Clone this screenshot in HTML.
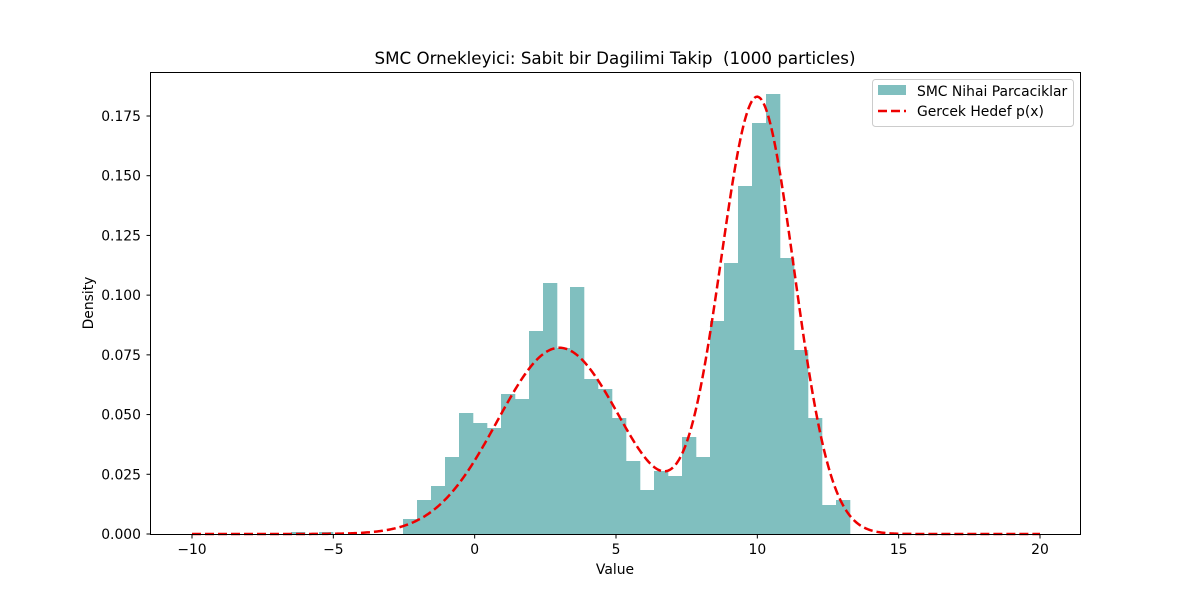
<!DOCTYPE html>
<html><head><meta charset="utf-8"><style>
body{margin:0;background:#fff}
svg text{font-family:"DejaVu Sans","Liberation Sans",sans-serif;fill:#000}
</style></head><body>
<svg id="s" width="1200" height="600" xmlns="http://www.w3.org/2000/svg">
<rect width="1200" height="600" fill="#fff"/>
<g id="bars" fill="#80bfbf"></g>
<path id="curve" fill="none" stroke="#e00" stroke-width="2.5" stroke-dasharray="9,4"/>
<rect x="150.5" y="72.5" width="930" height="462" fill="none" stroke="#000" stroke-width="1"/>
<g id="ticks" stroke="#000" stroke-width="1"></g>
<g id="labels"></g>
<text x="615" y="574" font-size="13.9" text-anchor="middle">Value</text>
<text transform="translate(93,303) rotate(-90)" font-size="13.9" text-anchor="middle">Density</text>
<text x="615" y="64" font-size="16.7" text-anchor="middle">SMC Ornekleyici: Sabit bir Dagilimi Takip&#160; (1000 particles)</text>
<rect x="872.5" y="79.5" width="201" height="47" rx="3" fill="#fff" fill-opacity="0.8" stroke="#ccc"/>
<rect x="878" y="85" width="28" height="10" fill="#80bfbf"/>
<text x="917" y="96" font-size="13.9">SMC Nihai Parcaciklar</text>
<line x1="878" y1="111" x2="906" y2="111" stroke="#e00" stroke-width="2.5" stroke-dasharray="9,4"/>
<text x="917" y="116" font-size="13.9">Gercek Hedef p(x)</text>
</svg>
<script>
var NS="http://www.w3.org/2000/svg";
function X(v){return 192+(v+10)*(848/30);}
function Y(d){return 534-d*(418/0.175);}
var bars=[[291,305,532],[319,333,532],[403,417,519],[417,431,500],[431,445,486],[445,459,457],[459,473,413],[473,487,423],[487,501,428],[501,515,394],[515,529,399],[529,543,331],[543,557,283],[557,570,348],[570,584,287],[584,598,379],[598,612,389],[612,626,418],[626,640,461],[640,654,490],[654,668,471],[668,682,476],[682,696,437],[696,710,457],[710,724,321],[724,738,263],[738,752,186],[752,766,123],[766,780,94],[780,794,258],[794,808,350],[808,822,418],[822,836,505],[836,850,500]];
var g=document.getElementById("bars");
bars.forEach(function(b){var r=document.createElementNS(NS,"rect");r.setAttribute("x",b[0]);r.setAttribute("width",b[1]-b[0]+0.3);r.setAttribute("y",b[2]);r.setAttribute("height",534-b[2]);g.appendChild(r);});
function N(x,m,s){return Math.exp(-0.5*((x-m)/s)*((x-m)/s))/(s*Math.sqrt(2*Math.PI));}
var d="";for(var i=0;i<=600;i++){var x=-10+30*i/600;var p=0.43*N(x,3,2.2)+0.595*N(x,10,1.3);d+=(i?"L":"M")+X(x).toFixed(2)+","+Y(p).toFixed(2);}
document.getElementById("curve").setAttribute("d",d);
var t=document.getElementById("ticks"),l=document.getElementById("labels");
function line(a,b,c,e){var q=document.createElementNS(NS,"line");q.setAttribute("x1",a);q.setAttribute("y1",b);q.setAttribute("x2",c);q.setAttribute("y2",e);t.appendChild(q);}
function txt(x,y,s,a){var q=document.createElementNS(NS,"text");q.setAttribute("x",x);q.setAttribute("y",y);q.setAttribute("text-anchor",a);q.setAttribute("font-size","13.9");q.textContent=s;l.appendChild(q);}
[-10,-5,0,5,10,15,20].forEach(function(v){var x=X(v);line(x,534.5,x,538.5);txt(x,554,v<0?"\u2212"+(-v):""+v,"middle");});
for(var k=0;k<=7;k++){var v=k*0.025;var y=Y(v);line(146.5,y,150.5,y);txt(141,y+5,v.toFixed(3),"end");}
</script>
</body></html>
